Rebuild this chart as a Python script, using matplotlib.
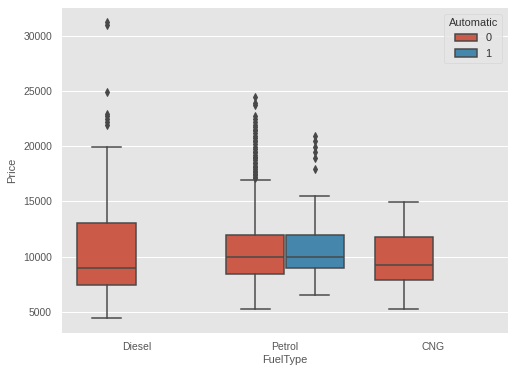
import colorsys
import matplotlib
matplotlib.use("Agg")
import matplotlib.pyplot as plt
import matplotlib.colors as mcolors
from matplotlib.patches import Patch

# categories / hue levels
fuel_types = ["Diesel", "Petrol", "CNG"]
hue_levels = ["0", "1"]

# box stats: (fuel index, hue index)
box_keys = [(0, 0), (1, 0), (1, 1), (2, 0)]
whislo = [4400, 5200, 6500, 5200]
q1 = [7450, 8450, 8950, 7850]
med = [8950, 9950, 9950, 9200]
q3 = [13000, 11950, 11950, 11750]
whishi = [19950, 16950, 15500, 14950]
fliers = [
    [21950, 22250, 22500, 22750, 22950, 24950, 31000, 31275],
    [17100, 17250, 17400, 17500, 17650, 17750, 17950, 18100, 18250, 18450,
     18500, 18750, 18950, 19000, 19250, 19450, 19500, 19750, 19950, 20250,
     20450, 20500, 20750, 20950, 21250, 21450, 21500, 21750, 21950, 22250,
     22500, 22750, 23750, 23950, 24500],
    [17950, 18950, 19450, 19950, 20500, 20950],
    [],
]


def desat(c, prop):
    r, g, b = mcolors.to_rgb(c)
    h, l, s = colorsys.rgb_to_hls(r, g, b)
    return colorsys.hls_to_rgb(h, l, s * prop)


def main():
    plt.rcParams['font.family'] = ['Liberation Sans', 'DejaVu Sans']
    plt.rcParams['font.size'] = 10

    colors = [desat("#E24A33", 0.75), desat("#348ABD", 0.75)]
    lum = min(colorsys.rgb_to_hls(*c)[1] for c in colors) * 0.6
    gray = (lum, lum, lum)
    txt = "#555555"

    fig = plt.figure(figsize=(514 / 72, 374 / 72), dpi=72)
    ax = fig.add_axes([0.1206, 0.1104, 0.8674, 0.8682])
    ax.set_facecolor("#E5E5E5")
    for sp in ax.spines.values():
        sp.set_visible(False)

    width = 0.8
    nested = width / len(hue_levels)
    offsets = [-nested / 2, nested / 2]

    stats = []
    positions = []
    for i, (fi, hi) in enumerate(box_keys):
        stats.append(dict(whislo=whislo[i], q1=q1[i], med=med[i], q3=q3[i],
                          whishi=whishi[i], fliers=fliers[i]))
        positions.append(fi + offsets[hi])

    art = ax.bxp(stats, positions=positions, widths=nested * 0.98,
                 patch_artist=True, manage_ticks=False,
                 boxprops=dict(edgecolor=gray, linewidth=1.5),
                 whiskerprops=dict(color=gray, linewidth=1.5),
                 capprops=dict(color=gray, linewidth=1.5),
                 medianprops=dict(color=gray, linewidth=1.5),
                 flierprops=dict(marker="d", markerfacecolor=gray,
                                 markeredgecolor=gray, markersize=5))
    for box, (fi, hi) in zip(art["boxes"], box_keys):
        box.set_facecolor(colors[hi])
        box.set_zorder(2)

    ax.set_xlim(-0.5, 2.5)
    ax.set_ylim(3090, 32550)
    ax.set_xticks(range(len(fuel_types)))
    ax.set_xticklabels(fuel_types)
    ax.set_yticks([5000, 10000, 15000, 20000, 25000, 30000])
    ax.tick_params(axis="both", length=0, colors=txt, labelsize=10.4)
    ax.tick_params(axis="x", pad=9)
    ax.tick_params(axis="y", pad=10)
    ax.yaxis.grid(True, color="white", linewidth=1.0)
    ax.xaxis.grid(False)
    ax.set_axisbelow(True)
    ax.set_xlabel("FuelType", color=txt, fontsize=11, labelpad=3)
    ax.set_ylabel("Price", color=txt, fontsize=11, labelpad=6)

    handles = [Patch(facecolor=colors[i], edgecolor=gray, linewidth=1.5, label=h)
               for i, h in enumerate(hue_levels)]
    leg = ax.legend(handles=handles, title="Automatic", loc="upper right",
                    fontsize=11, title_fontsize=11, labelcolor="#333333")
    leg.get_title().set_color("#333333")
    leg.get_frame().set_facecolor("#E5E5E5")
    leg.get_frame().set_edgecolor("#D8D8D8")

    plt.savefig("out.png", dpi=72)


if __name__ == "__main__":
    main()
